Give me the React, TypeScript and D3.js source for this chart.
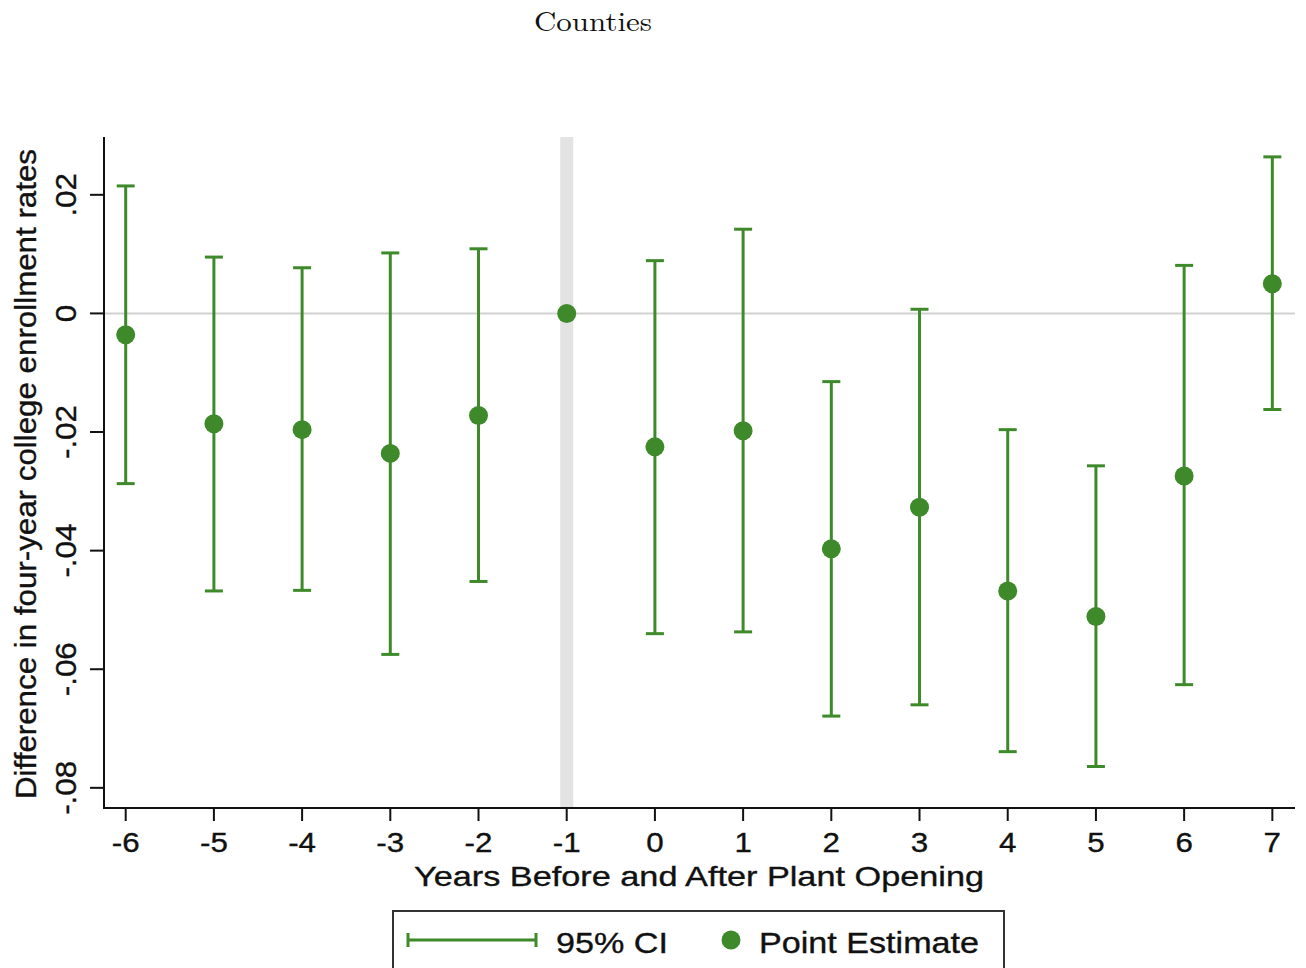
import React from "react";
import * as d3 from "d3";

const years: number[] = [-6, -5, -4, -3, -2, -1, 0, 1, 2, 3, 4, 5, 6, 7];
const estimates: number[] = [-0.0036, -0.0186, -0.0196, -0.0236, -0.0172, 0, -0.0225, -0.0198, -0.0397, -0.0327, -0.0468, -0.0511, -0.0274, 0.005];
const ciUpper: (number | null)[] = [0.0215, 0.0095, 0.0077, 0.0102, 0.0109, null, 0.0089, 0.0142, -0.0115, 0.0007, -0.0196, -0.0257, 0.0081, 0.0264];
const ciLower: (number | null)[] = [-0.0287, -0.0468, -0.0467, -0.0575, -0.0452, null, -0.054, -0.0537, -0.0679, -0.066, -0.0739, -0.0764, -0.0626, -0.0162];
const yTicks: number[] = [0.02, 0, -0.02, -0.04, -0.06, -0.08];
const yTickLabels: string[] = [".02", "0", "-.02", "-.04", "-.06", "-.08"];

const GREEN = "#3e8a2a";
const FONT = "'Liberation Sans', Arial, Helvetica, sans-serif";
const TXT = "#111";

export default function App() {
  const W = 1306, H = 968;
  const left = 104, right = 1295, top = 137, bottom = 808;
  const x = d3.scaleLinear().domain([-6.246, 7.257]).range([left, right]);
  const y = d3.scaleLinear().domain([-0.0834, 0.02975]).range([bottom, top]);
  const capHalf = 9;
  const heavy = { stroke: TXT, strokeWidth: 0.35 } as const;

  return (
    <svg width={W} height={H} style={{ position: "absolute", left: 0, top: 0, background: "#fff" }}>
      <rect x={0} y={0} width={W} height={H} fill="#fff" />
      <text x={593} y={31} textAnchor="middle" fontFamily="'Latin Modern Roman', 'Liberation Serif', 'DejaVu Serif', serif" fontSize={28} textLength={118} lengthAdjust="spacingAndGlyphs" fill={TXT}>Counties</text>

      {/* reference band at -1 */}
      <rect x={x(-1) - 6.5} y={top} width={13} height={bottom - top} fill="#e3e3e3" />
      {/* zero line */}
      <line x1={left} x2={right} y1={y(0)} y2={y(0)} stroke="#d2d2d2" strokeWidth={2} />

      {/* CIs */}
      {years.map((yr, i) => {
        const u = ciUpper[i], l = ciLower[i];
        if (u === null || l === null) return null;
        const cx = x(yr);
        return (
          <g key={"ci" + i} stroke={GREEN} strokeWidth={3}>
            <line x1={cx} x2={cx} y1={y(u)} y2={y(l)} />
            <line x1={cx - capHalf} x2={cx + capHalf} y1={y(u)} y2={y(u)} />
            <line x1={cx - capHalf} x2={cx + capHalf} y1={y(l)} y2={y(l)} />
          </g>
        );
      })}
      {years.map((yr, i) => (
        <circle key={"pt" + i} cx={x(yr)} cy={y(estimates[i])} r={9.5} fill={GREEN} />
      ))}

      {/* axes */}
      <line x1={left} x2={left} y1={top} y2={bottom + 1} stroke={TXT} strokeWidth={2} />
      <line x1={left - 1} x2={right} y1={bottom} y2={bottom} stroke={TXT} strokeWidth={2} />
      {yTicks.map((t, i) => (
        <g key={"yt" + i}>
          <line x1={left - 14} x2={left} y1={y(t)} y2={y(t)} stroke={TXT} strokeWidth={2} />
          <text transform={`translate(${76},${y(t)}) rotate(-90) scale(1.08,1)`} textAnchor="middle" fontFamily={FONT} fontSize={29} fill={TXT} {...heavy}>{yTickLabels[i]}</text>
        </g>
      ))}
      {years.map((t, i) => (
        <g key={"xt" + i}>
          <line x1={x(t)} x2={x(t)} y1={bottom} y2={bottom + 13} stroke={TXT} strokeWidth={2} />
          <text transform={`translate(${x(t)},${852}) scale(1.12,1)`} textAnchor="middle" fontFamily={FONT} fontSize={28} fill={TXT} {...heavy}>{String(t)}</text>
        </g>
      ))}
      <text x={699} y={886} textAnchor="middle" fontFamily={FONT} fontSize={28} textLength={570} lengthAdjust="spacingAndGlyphs" fill={TXT} {...heavy}>Years Before and After Plant Opening</text>
      <text transform={`translate(${36},${474}) rotate(-90)`} textAnchor="middle" fontFamily={FONT} fontSize={29} textLength={650} lengthAdjust="spacingAndGlyphs" fill={TXT} {...heavy}>Difference in four-year college enrollment rates</text>

      {/* legend */}
      <rect x={393} y={911} width={611} height={80} fill="#fff" stroke="#333" strokeWidth={2} />
      <g stroke={GREEN} strokeWidth={3}>
        <line x1={408} x2={536} y1={940} y2={940} />
        <line x1={408} x2={408} y1={933} y2={947} />
        <line x1={536} x2={536} y1={933} y2={947} />
      </g>
      <text x={556} y={953} fontFamily={FONT} fontSize={29} textLength={112} lengthAdjust="spacingAndGlyphs" fill={TXT} {...heavy}>95% CI</text>
      <circle cx={731} cy={940} r={9.5} fill={GREEN} />
      <text x={759} y={953} fontFamily={FONT} fontSize={29} textLength={220} lengthAdjust="spacingAndGlyphs" fill={TXT} {...heavy}>Point Estimate</text>
    </svg>
  );
}
